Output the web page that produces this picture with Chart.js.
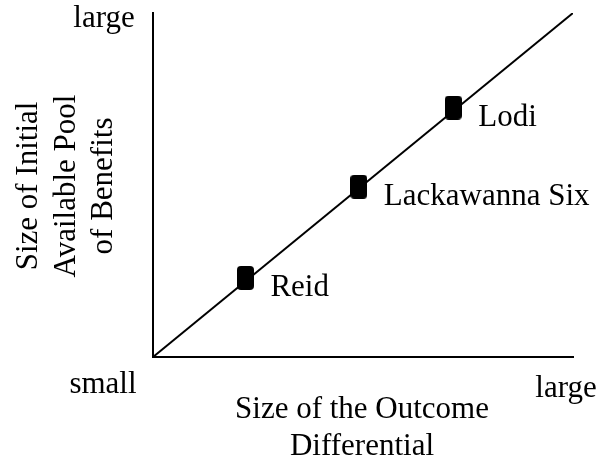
<!DOCTYPE html>
<html>
<head>
<meta charset="utf-8">
<script src="https://cdn.jsdelivr.net/npm/chart.js@4/dist/chart.umd.min.js"></script>
<style>
html,body{margin:0;padding:0;background:#fff;}
#wrap{width:601px;height:459px;position:relative;}
</style>
</head>
<body>
<div id="wrap"><canvas id="c" width="601" height="459"></canvas></div>
<script>
// ---- data ----
const caseNames = ["Reid", "Lackawanna Six", "Lodi"];
const outcomeDifferential = [0.22, 0.49, 0.715];   // x values (0 = small, 1 = large)
const initialPool = [0.23, 0.495, 0.725];           // y values (0 = small, 1 = large)
const trendLine = [{x: 0, y: 0}, {x: 1, y: 1}];
const axisEndLabels = {low: "small", high: "large"};
const xTitleLines = ["Size of the Outcome", "Differential"];
const yTitleLines = ["Size of Initial", "Available Pool", "of Benefits"];

const FONT = '31px "Liberation Serif", "Times New Roman", serif';

// rounded-rectangle marker
function makeMarker(w, h, r) {
  const cv = document.createElement('canvas');
  cv.width = w; cv.height = h;
  const g = cv.getContext('2d');
  g.fillStyle = '#000';
  g.beginPath();
  g.moveTo(r, 0); g.lineTo(w - r, 0); g.quadraticCurveTo(w, 0, w, r);
  g.lineTo(w, h - r); g.quadraticCurveTo(w, h, w - r, h);
  g.lineTo(r, h); g.quadraticCurveTo(0, h, 0, h - r);
  g.lineTo(0, r); g.quadraticCurveTo(0, 0, r, 0);
  g.closePath(); g.fill();
  return cv;
}
const marker = makeMarker(17, 24, 4);

const textPlugin = {
  id: 'texts',
  afterDatasetsDraw(chart) {
    const ctx = chart.ctx;
    const a = chart.chartArea;
    ctx.save();
    ctx.fillStyle = '#000';
    ctx.font = FONT;
    // point labels
    const meta = chart.getDatasetMeta(1);
    ctx.textAlign = 'left';
    ctx.textBaseline = 'alphabetic';
    meta.data.forEach((pt, i) => {
      ctx.fillText(caseNames[i], pt.x + 25, pt.y + 18);
    });
    // axis end labels
    ctx.textAlign = 'center';
    ctx.fillText(axisEndLabels.high, a.left - 49, a.top + 14);
    ctx.fillText(axisEndLabels.low, a.left - 50, a.bottom + 36);
    ctx.fillText(axisEndLabels.high, a.right - 7, a.bottom + 40);
    // x title
    const cx = (a.left + a.right) / 2;
    xTitleLines.forEach((t, i) => ctx.fillText(t, cx - 1, a.bottom + 61 + i * 37));
    // y title (rotated)
    ctx.save();
    ctx.translate(0, (a.top + a.bottom) / 2 + 1);
    ctx.rotate(-Math.PI / 2);
    yTitleLines.forEach((t, i) => ctx.fillText(t, 0, 37 + i * 37.5));
    ctx.restore();
    ctx.restore();
  }
};

new Chart(document.getElementById('c'), {
  type: 'scatter',
  data: {
    datasets: [
      {
        type: 'line',
        data: trendLine,
        borderColor: '#000',
        borderWidth: 2,
        pointRadius: 0,
        fill: false
      },
      {
        data: outcomeDifferential.map((x, i) => ({x: x, y: initialPool[i]})),
        pointStyle: marker,
        pointRadius: 10,
        backgroundColor: '#000',
        borderColor: '#000'
      }
    ]
  },
  options: {
    responsive: false,
    animation: false,
    layout: {padding: {left: 153, top: 13, right: 28, bottom: 102}},
    plugins: {legend: {display: false}, tooltip: {enabled: false}},
    scales: {
      x: {
        type: 'linear', min: 0, max: 1,
        grid: {display: false, drawTicks: false},
        ticks: {display: false},
        border: {display: true, color: '#000', width: 2}
      },
      y: {
        type: 'linear', min: 0, max: 1,
        grid: {display: false, drawTicks: false},
        ticks: {display: false},
        border: {display: true, color: '#000', width: 2}
      }
    }
  },
  plugins: [textPlugin]
});
</script>
</body>
</html>
